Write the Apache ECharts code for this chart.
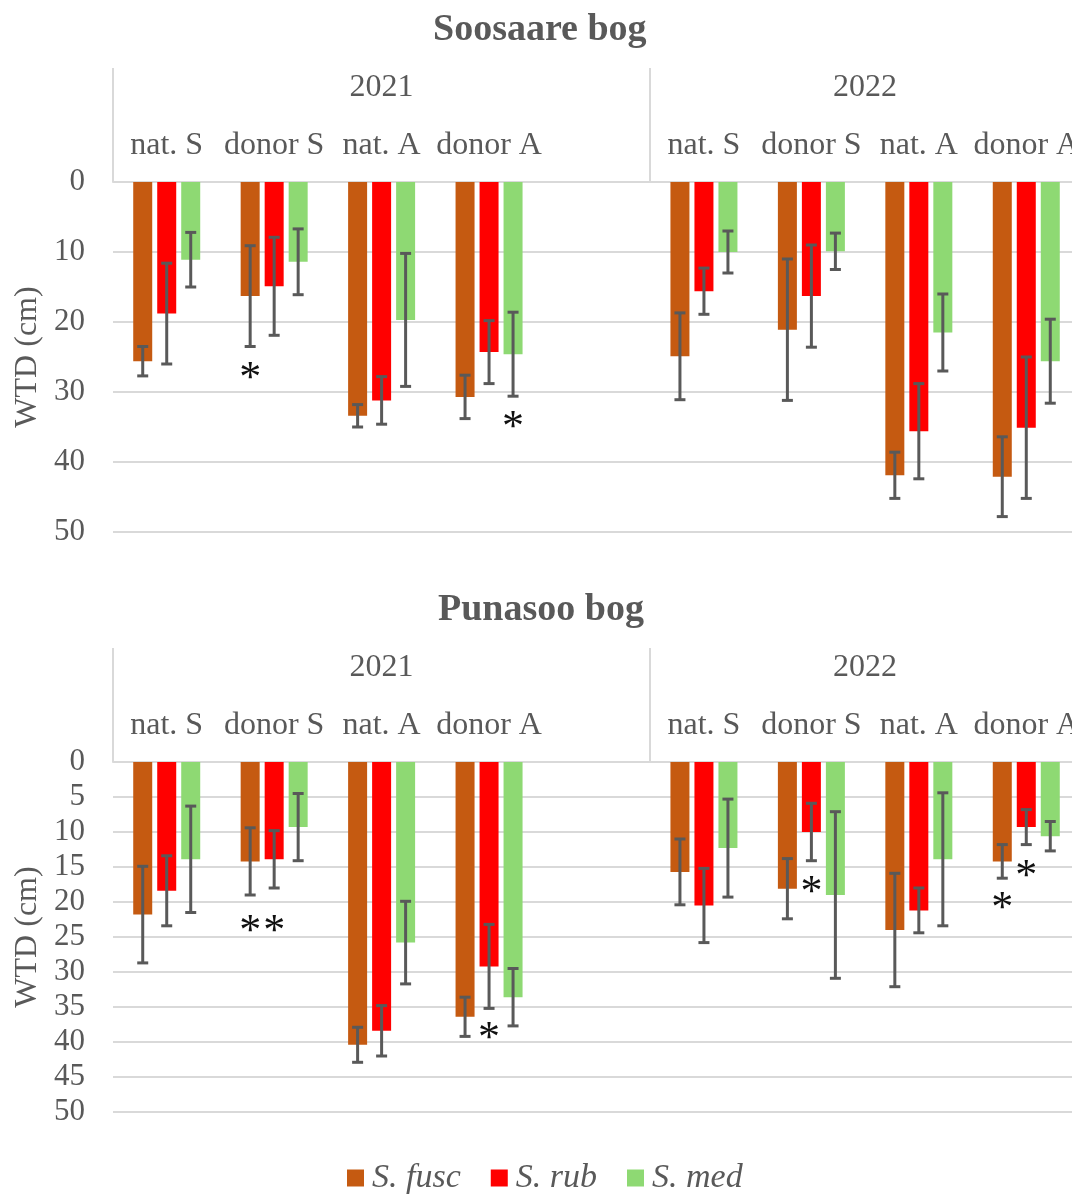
<!DOCTYPE html>
<html><head><meta charset="utf-8">
<script src="https://cdn.jsdelivr.net/npm/echarts@6/dist/echarts.min.js"></script>
<style>html,body{margin:0;padding:0;background:#fff}#c{width:1072px;height:1194px}</style>
</head><body><div id="c"></div>
<script>
// ---------------- DATA ----------------
const years = ['2021', '2022'];
const treatments = ['nat. S', 'donor S', 'nat. A', 'donor A'];
const speciesNames = ['S. fusc', 'S. rub', 'S. med'];
// values ordered: 2021 nat.S, donor S, nat.A, donor A, 2022 nat.S, donor S, nat.A, donor A
// Soosaare bog
const sooFusc    = [25.6, 16.3, 33.4, 30.7, 24.9, 21.1, 41.9, 42.1];
const sooFuscErr = [2.1, 7.2, 1.6, 3.1, 6.2, 10.1, 3.3, 5.7];
const sooRub     = [18.8, 14.9, 31.2, 24.3, 15.6, 16.3, 35.6, 35.1];
const sooRubErr  = [7.2, 7.0, 3.4, 4.5, 3.3, 7.3, 6.8, 10.1];
const sooMed     = [11.1, 11.4, 19.7, 24.6, 10.0, 9.9, 21.5, 25.6];
const sooMedErr  = [3.9, 4.7, 9.5, 6.0, 3.0, 2.6, 5.5, 6.0];
// Punasoo bog
const punFusc    = [21.8, 14.2, 40.4, 36.4, 15.7, 18.1, 24.0, 14.2];
const punFuscErr = [6.9, 4.8, 2.5, 2.8, 4.7, 4.3, 8.1, 2.4];
const punRub     = [18.4, 13.9, 38.4, 29.2, 20.5, 10.0, 21.2, 9.3];
const punRubErr  = [5.0, 4.1, 3.6, 6.0, 5.3, 4.1, 3.2, 2.5];
const punMed     = [13.9, 9.3, 25.8, 33.6, 12.3, 19.0, 13.9, 10.6];
const punMedErr  = [7.6, 4.8, 5.9, 4.1, 7.0, 11.9, 9.5, 2.1];
// significance asterisks: [group index (0-7), species index, WTD position]
const sooStars = [[1, 0, 27.0], [3, 2, 34.0]];
const punStars = [[1, 0, 23.2], [1, 1, 23.2], [3, 1, 38.5], [5, 1, 17.6], [7, 0, 19.9], [7, 1, 15.4]];
const sooTicks = [0, 10, 20, 30, 40, 50];
const punTicks = [0, 5, 10, 15, 20, 25, 30, 35, 40, 45, 50];

// ---------------- STYLE ----------------
const COLORS = ['#C55A11', '#FF0000', '#8ED973'];
const FONT = '"Liberation Serif", "Times New Roman", serif';
const GREY = '#595959';
const LINE = '#D9D9D9';
const BAR_W = 19, BAR_GAP = 5, STEP = BAR_W + BAR_GAP;

// slot keys: 4 groups of 2021, blank, 4 groups of 2022
const slotKeys = [];
years.forEach((y, yi) => {
  treatments.forEach(t => slotKeys.push(y + '|' + t));
  if (yi === 0) slotKeys.push('gap|');
});
const slotOf = i => (i < 4 ? i : i + 1);
const toBarData = arr => {
  const out = new Array(slotKeys.length).fill(null);
  arr.forEach((v, i) => { out[slotOf(i)] = v; });
  return out;
};
const toErrData = (means, errs) => {
  const all = [];
  means.forEach((m, s) => m.forEach((v, i) => all.push([slotOf(i), v - errs[s][i], v + errs[s][i], s])));
  return all;
};
const toStarData = stars => stars.map(st => [slotOf(st[0]), st[2], st[1]]);

function errRender(params, api) {
  const x = api.value(0), lo = api.value(1), hi = api.value(2), s = api.value(3);
  const a = api.coord([x, lo]), b = api.coord([x, hi]);
  const cx = a[0] + (s - 1) * STEP;
  const cap = 5.5;
  const st = { stroke: GREY, lineWidth: 3 };
  return { type: 'group', children: [
    { type: 'line', shape: { x1: cx, y1: a[1], x2: cx, y2: b[1] }, style: st },
    { type: 'line', shape: { x1: cx - cap, y1: a[1], x2: cx + cap, y2: a[1] }, style: st },
    { type: 'line', shape: { x1: cx - cap, y1: b[1], x2: cx + cap, y2: b[1] }, style: st }
  ]};
}
function starRender(params, api) {
  const x = api.value(0), y = api.value(1), s = api.value(2);
  const p = api.coord([x, y]);
  return { type: 'text', x: p[0] + (s - 1) * STEP, y: p[1] + 8,
    style: { text: '*', font: '44px ' + FONT, fill: '#111', align: 'center', verticalAlign: 'middle' } };
}

function makeAxes(gi, ticks) {
  const catAxis = {
    type: 'category', gridIndex: gi, position: 'top', data: slotKeys,
    axisLine: { show: true, onZero: false, lineStyle: { color: LINE, width: 2 } },
    axisTick: { show: false },
    axisLabel: { interval: 0, margin: 20, color: GREY, fontFamily: FONT, fontSize: 32,
      formatter: v => v.split('|')[1] }
  };
  const yearAxis = {
    type: 'value', gridIndex: gi, position: 'top', min: 0, max: 9,
    axisLine: { show: false, onZero: false }, splitLine: { show: false },
    axisTick: { show: true, customValues: [0, 5], length: 114, lineStyle: { color: LINE, width: 2 } },
    axisLabel: { customValues: [2.5, 7], margin: 78, color: GREY, fontFamily: FONT, fontSize: 32,
      formatter: v => (v < 5 ? years[0] : years[1]) }
  };
  const yAxis = {
    type: 'value', gridIndex: gi, inverse: true, min: ticks[0], max: ticks[ticks.length - 1],
    interval: ticks[1] - ticks[0],
    name: 'WTD (cm)', nameLocation: 'middle', nameGap: 67,
    nameTextStyle: { color: GREY, fontFamily: FONT, fontSize: 32 },
    axisLine: { show: false, onZero: false }, axisTick: { show: false },
    axisLabel: { margin: 28, color: GREY, fontFamily: FONT, fontSize: 31 },
    splitLine: { show: true, lineStyle: { color: LINE, width: 2 } }
  };
  return { catAxis, yearAxis, yAxis };
}
const A0 = makeAxes(0, sooTicks), A1 = makeAxes(1, punTicks);

function makeSeries(xi, yi, fusc, rub, med, errs, stars) {
  const means = [fusc, rub, med];
  const bars = means.map((m, s) => ({
    name: speciesNames[s], type: 'bar', xAxisIndex: xi, yAxisIndex: yi,
    data: toBarData(m), barWidth: BAR_W, barGap: (BAR_GAP / BAR_W * 100) + '%',
    itemStyle: { color: COLORS[s] }, z: 2
  }));
  return bars.concat([
    { type: 'custom', xAxisIndex: xi, yAxisIndex: yi, renderItem: errRender,
      encode: { x: 0, y: [1, 2] }, data: toErrData(means, errs), z: 5, silent: true },
    { type: 'custom', xAxisIndex: xi, yAxisIndex: yi, renderItem: starRender,
      encode: { x: 0, y: 1 }, data: toStarData(stars), z: 6, silent: true }
  ]);
}

const titleStyle = { fontFamily: FONT, fontSize: 38, fontWeight: 'bold', color: GREY };
const option = {
  animation: false,
  backgroundColor: '#fff',
  title: [
    { text: 'Soosaare bog', left: 433, top: 11, padding: 0, textStyle: titleStyle },
    { text: 'Punasoo bog', left: 438, top: 591, padding: 0, textStyle: titleStyle }
  ],
  legend: {
    left: 347, top: 1161, padding: 0, itemWidth: 17, itemHeight: 17, itemGap: 30, icon: 'rect',
    data: speciesNames,
    textStyle: { fontFamily: FONT, fontSize: 34, fontStyle: 'italic', color: GREY, padding: [0, 0, 0, 3] }
  },
  grid: [
    { left: 113, width: 967, top: 182, height: 350, containLabel: false, outerBoundsMode: 'none' },
    { left: 113, width: 967, top: 762, height: 350, containLabel: false, outerBoundsMode: 'none' }
  ],
  xAxis: [A0.catAxis, A0.yearAxis, A1.catAxis, A1.yearAxis],
  yAxis: [A0.yAxis, A1.yAxis],
  series: [].concat(
    makeSeries(0, 0, sooFusc, sooRub, sooMed, [sooFuscErr, sooRubErr, sooMedErr], sooStars),
    makeSeries(2, 1, punFusc, punRub, punMed, [punFuscErr, punRubErr, punMedErr], punStars)
  )
};
const chart = echarts.init(document.getElementById('c'), null, { renderer: 'canvas' });
chart.setOption(option);
</script></body></html>
